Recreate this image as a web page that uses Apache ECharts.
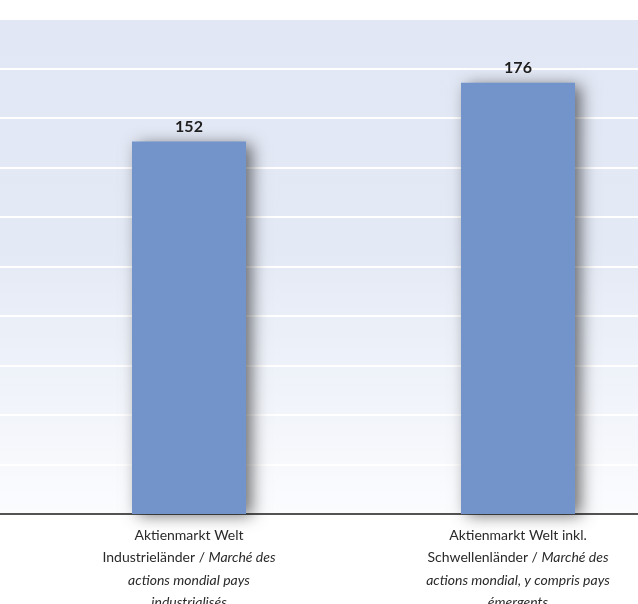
<!DOCTYPE html>
<html>
<head>
<meta charset="utf-8">
<style>
  html, body { margin: 0; padding: 0; background: #fff; }
  #main { width: 638px; height: 604px; }
</style>
</head>
<body>
<div id="main"></div>
<script src="https://cdn.jsdelivr.net/npm/echarts@6/dist/echarts.min.js"></script>
<script type="text/javascript">
    // data
    var categories = [
        'Aktienmarkt Welt\nIndustrieländer / {i|Marché des}\n{i|actions mondial pays}\n{i|industrialisés}',
        'Aktienmarkt Welt inkl.\nSchwellenländer / {i|Marché des}\n{i|actions mondial, y compris pays}\n{i|émergents}'
    ];
    var values = [152, 176];
    var yMin = 0, yMax = 200, yStep = 20;
    // bar scale top, as measured against the picture
    var barMax = 202;

    var myChart = echarts.init(document.getElementById('main'));
    var font = 'Lato, "Open Sans", sans-serif';

    option = {
        animation: false,
        textStyle: { fontFamily: font },
        grid: [
            // full-width background with gridlines
            {
                left: 0, width: 638, top: 19, height: 495,
                outerBoundsMode: 'none',
                containLabel: false,
                show: true,
                borderWidth: 0,
                backgroundColor: new echarts.graphic.LinearGradient(0, 0, 0, 1, [
                    { offset: 0, color: '#e1e7f4' },
                    { offset: 0.45, color: '#e3e9f5' },
                    { offset: 1, color: '#fbfcfe' }
                ])
            },
            // bars (the original is cropped on the right)
            { left: 24.5, width: 658, top: 19, height: 495, outerBoundsMode: 'none', containLabel: false }
        ],
        xAxis: [
            {
                gridIndex: 0,
                type: 'value',
                min: 0, max: 1,
                axisLine: { show: true, onZero: false, lineStyle: { color: '#1a1a1a', width: 1.5 } },
                axisTick: { show: false },
                axisLabel: { show: false },
                splitLine: { show: false }
            },
            {
                gridIndex: 1,
                type: 'category',
                data: categories,
                axisLine: { show: false },
                axisTick: { show: false },
                axisLabel: {
                    interval: 0,
                    margin: 10,
                    fontSize: 14,
                    lineHeight: 22.5,
                    color: '#2a2a2a',
                    fontFamily: font,
                    rich: {
                        i: { fontStyle: 'italic', fontSize: 14, lineHeight: 22.5, color: '#2a2a2a', fontFamily: font }
                    }
                }
            }
        ],
        yAxis: [
            {
                gridIndex: 0,
                type: 'value',
                min: yMin, max: yMax, interval: yStep,
                axisLine: { show: false },
                axisTick: { show: false },
                axisLabel: { show: false },
                splitLine: { show: true, lineStyle: { color: '#ffffff', width: 2 } }
            },
            {
                gridIndex: 1,
                type: 'value',
                min: yMin, max: barMax,
                show: false,
                splitLine: { show: false }
            }
        ],
        series: [
            {
                type: 'bar',
                xAxisIndex: 1,
                yAxisIndex: 1,
                data: values,
                barWidth: 114,
                itemStyle: {
                    color: '#7394cb',
                    shadowColor: 'rgba(0, 0, 0, 0.55)',
                    shadowBlur: 15,
                    shadowOffsetX: 6,
                    shadowOffsetY: 2
                },
                label: {
                    show: true,
                    position: 'top',
                    distance: 7,
                    fontSize: 16,
                    fontWeight: 'bold',
                    color: '#1e1e1e',
                    fontFamily: font
                }
            }
        ]
    };
    myChart.setOption(option);
</script>
</body>
</html>
